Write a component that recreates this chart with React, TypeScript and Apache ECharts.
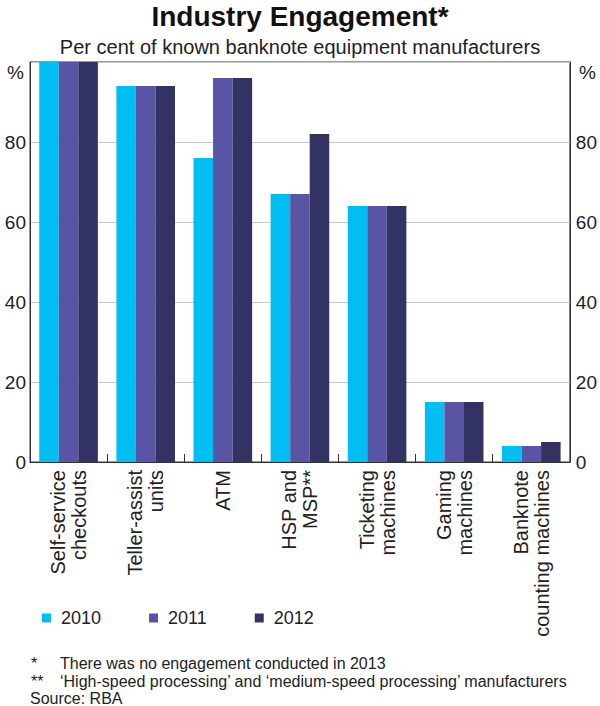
import React, { useEffect, useRef } from "react";
import * as echarts from "echarts";

const categories = [
  "Self-service\ncheckouts",
  "Teller-assist\nunits",
  "ATM",
  "HSP and\nMSP**",
  "Ticketing\nmachines",
  "Gaming\nmachines",
  "Banknote\ncounting machines",
];
const seriesNames = ["2010", "2011", "2012"];
const values2010 = [100, 94, 76, 67, 64, 15, 4];
const values2011 = [100, 94, 96, 67, 64, 15, 4];
const values2012 = [100, 94, 96, 82, 64, 15, 5];
const colors = ["#00BEF2", "#5A54A5", "#333363"];
const yTicks = [0, 20, 40, 60, 80, 100];
const footnotes = [
  ["*", "There was no engagement conducted in 2013"],
  ["**", "\u2018High-speed processing\u2019 and \u2018medium-speed processing\u2019 manufacturers"],
];
const source = "Source: RBA";

const FONT = "'Liberation Sans', Arial, Helvetica, sans-serif";

export default function App() {
  const ref = useRef<HTMLDivElement>(null);
  useEffect(() => {
    if (!ref.current) return;
    const chart = echarts.init(ref.current, undefined, { renderer: "svg" });
    const data = [values2010, values2011, values2012];
    const yAxisCommon = {
      type: "value",
      min: yTicks[0],
      max: yTicks[yTicks.length - 1],
      interval: 20,
      axisLine: { show: true, lineStyle: { color: "#333", width: 1 } },
      axisTick: { show: false },
      axisLabel: {
        color: "#222",
        fontSize: 19,
        fontFamily: FONT,
        formatter: (v: number) => (v === 100 ? "" : String(v)),
      },
    };
    chart.setOption({
      animation: false,
      textStyle: { fontFamily: FONT },
      title: [
        {
          text: "Industry Engagement*",
          left: "center",
          top: -3,
          textStyle: { fontSize: 28, fontWeight: "bold", color: "#111", fontFamily: FONT },
        },
        {
          text: "Per cent of known banknote equipment manufacturers",
          left: "center",
          top: 32,
          textStyle: { fontSize: 20, fontWeight: "normal", color: "#222", fontFamily: FONT },
        },
      ],
      grid: {
        left: 30,
        right: 28,
        top: 62,
        bottom: 244,
        show: true,
        borderColor: "#333",
        borderWidth: 1,
        containLabel: false,
      },
      legend: {
        data: seriesNames,
        left: 42,
        top: 609,
        padding: 0,
        itemWidth: 9,
        itemHeight: 9,
        itemGap: 48,
        icon: "rect",
        textStyle: { fontSize: 18, color: "#222", fontFamily: FONT, padding: [0, 0, 0, 5] },
      },
      xAxis: {
        type: "category",
        data: categories,
        axisLine: { show: true, lineStyle: { color: "#333" } },
        axisTick: { show: true, inside: true, length: 8, interval: 0, lineStyle: { color: "#333" } },
        axisLabel: {
          interval: 0,
          rotate: 90,
          fontSize: 20,
          lineHeight: 21,
          color: "#222",
          fontFamily: FONT,
          margin: 8,
        },
      },
      yAxis: [
        {
          ...yAxisCommon,
          position: "left",
          axisLabel: { ...yAxisCommon.axisLabel, margin: 4 },
          splitLine: { show: true, lineStyle: { color: "#c8c8c8", width: 1 } },
        },
        {
          ...yAxisCommon,
          position: "right",
          axisLabel: { ...yAxisCommon.axisLabel, margin: 6 },
          splitLine: { show: false },
        },
      ],
      series: seriesNames.map((name, i) => ({
        name,
        type: "bar",
        yAxisIndex: 0,
        data: data[i],
        barGap: "0%",
        barCategoryGap: "24%",
        itemStyle: { color: colors[i] },
      })),
      graphic: [
        {
          type: "text",
          left: 7,
          top: 63,
          style: { text: "%", fontSize: 19, fill: "#222", fontFamily: FONT },
        },
        {
          type: "text",
          left: 579,
          top: 63,
          style: { text: "%", fontSize: 19, fill: "#222", fontFamily: FONT },
        },
        ...footnotes.flatMap(([mark, text], i) => [
          {
            type: "text",
            left: 31,
            top: 655 + i * 18,
            style: { text: mark, fontSize: 16, fill: "#222", fontFamily: FONT },
          },
          {
            type: "text",
            left: 60,
            top: 655 + i * 18,
            style: { text, fontSize: 16, fill: "#222", fontFamily: FONT },
          },
        ]),
        {
          type: "text",
          left: 30,
          top: 690,
          style: { text: source, fontSize: 16, fill: "#222", fontFamily: FONT },
        },
      ],
    });
    return () => chart.dispose();
  }, []);
  return (
    <div
      ref={ref}
      style={{ position: "absolute", left: 0, top: 0, width: 600, height: 706 }}
    />
  );
}
